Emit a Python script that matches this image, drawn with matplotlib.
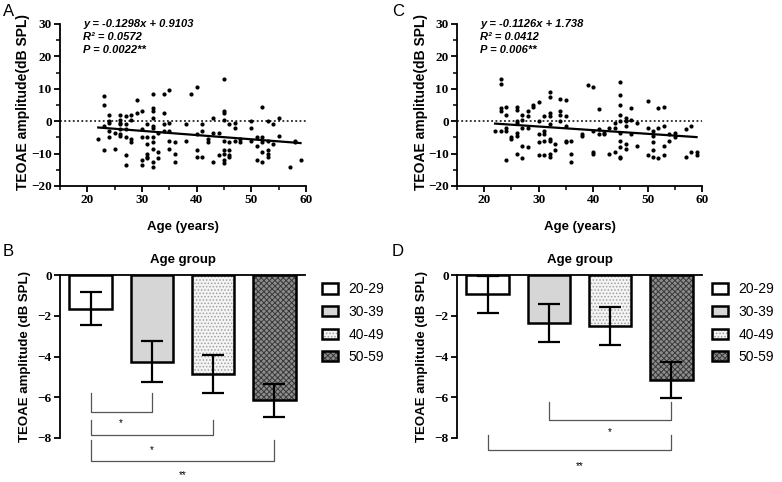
import matplotlib
matplotlib.use("Agg")
import matplotlib.pyplot as plt
from matplotlib.patches import Patch
from matplotlib.legend_handler import HandlerTuple
from matplotlib.ticker import MultipleLocator
import numpy as np

# ---------------- data ----------------
age_A = [22, 23, 23, 23, 23, 24, 24, 24, 24, 24, 25, 25,
         26, 26, 26, 26, 26, 26, 26, 27, 27, 27, 27, 27, 27,
         28, 28, 28, 28, 29, 29, 30, 30, 30, 30, 30,
         31, 31, 31, 31, 31, 31,
         32, 32, 32, 32, 32, 32, 32, 32, 32, 32, 32,
         33, 33, 33, 34, 34, 34, 34, 35, 35, 35, 35, 35,
         36, 36, 36, 38, 38, 39, 40, 40, 40, 40, 41, 41, 41,
         42, 42, 43, 43, 43, 44, 44,
         45, 45, 45, 45, 45, 45, 45, 45, 45,
         46, 46, 46, 46, 46, 47, 47, 47, 48, 48, 50, 50, 50,
         51, 51, 51, 52, 52, 52, 52, 52, 53, 53, 53, 53, 53,
         54, 54, 55, 55, 57, 58, 58, 59]
amp_A = [-5.5, 7.7, 5, -1.5, -9, 2, 0, -0.5, -3, -5, -3.5, -8.5,
         2, 0.5, -0.5, -1, -2.5, -4, -4.5, 1.5, -1, -2.5, -5, -10.5, -13.5,
         2, 0.5, -5.5, -6.5, 6.5, 2.5, 3, -2.5, -5, -12, -13.5,
         -1, -5, -7, -10, -11, -11.5,
         8.3, 4, 3, 1, -1.5, -2, -5, -6.5, -8.5, -12.5, -14,
         -3.5, -9.5, -11.5, 8.3, 2.5, -1, -3, 9.5, -0.5, -3, -6, -8.5,
         -6.5, -10, -12.5, -1, -6, 8.5, 10.5, -4, -9, -11, -1, -3, -11,
         -5.5, -6.5, 1, -3.5, -12.5, -3.5, -10.5,
         13, 3, 2.5, 0.5, -6, -9, -10, -12, -13,
         -1, -6.5, -9, -10.5, -11, -0.5, -2, -6, -5.5, -6.5, 0, -2, -6,
         -5, -7.5, -12, 4.5, -5, -6.5, -9.5, -12.5, 0, -6, -9, -10, -11,
         -1, -7, 1, -4.5, -14, -6, -6.5, -12]

age_C = [22, 23, 23, 23, 23, 23, 24, 24, 24, 24, 24, 25, 25,
         26, 26, 26, 26, 26, 26, 26, 27, 27, 27, 27, 27,
         28, 28, 28, 28, 29, 29, 30, 30, 30, 30, 30,
         31, 31, 31, 31, 31,
         32, 32, 32, 32, 32, 32, 32, 32, 32,
         33, 33, 34, 34, 34, 34, 35, 35, 35, 35, 35,
         36, 36, 36, 38, 38, 39, 40, 40, 40, 40, 41, 41, 41,
         42, 42, 43, 43, 44, 44, 44,
         45, 45, 45, 45, 45, 45, 45, 45, 45, 45,
         46, 46, 46, 46, 46, 47, 47, 47, 48, 48, 50, 50, 50,
         51, 51, 51, 51, 51, 52, 52, 52, 53, 53, 53, 53,
         54, 54, 55, 55, 57, 57, 58, 58, 59, 59]
amp_C = [-3, 13, 11.5, 4, 3, -3, 4.5, 2, -2, -3, -12, -5, -5.5,
         4.5, 3.5, 0, -0.5, -3.5, -4.5, -10, 2, 0.5, -2, -7.5, -11.5,
         3, 1.5, -2, -8, 5, 4.5, 5.8, 0, -4, -6.5, -10.5,
         1.5, -3, -4, -6, -10.5,
         9, 7.5, 2.5, 1.5, -1, -5.5, -6, -10, -11,
         -7, -9, 7, 3, 2, 0, 6.5, 1.5, -1.5, -6, -6.5,
         -6, -10, -12.5, -4, -4.5, 11.3, 10.5, -3, -9.5, -10, 3.8, -2.5, -4,
         -3.5, -4, -2, -10, -0.5, -2, -9.5,
         12, 8, 5, 2, 0, -3.5, -6, -8, -11, -11.5,
         1, 0, -1.5, -7, -8.5, 4, 0.5, -4, -0.5, -7.5, 6.3, -2, -10.5,
         -3, -4.5, -6.5, -9, -11, 4, -2, -11.5, 4.5, -1.5, -7.5, -10.5,
         -4, -6, -3.5, -5, -2.5, -11, -1.5, -9.5, -9.5, -10.5]

slope_A, intercept_A = -0.1298, 0.9103
slope_C, intercept_C = -0.1126, 1.738
stats_A = ["y = -0.1298x + 0.9103", "R\u00b2 = 0.0572", "P = 0.0022**"]
stats_C = ["y = -0.1126x + 1.738", "R\u00b2 = 0.0412", "P = 0.006**"]

groups = ["20-29", "30-39", "40-49", "50-59"]
mean_B = [-1.65, -4.25, -4.85, -6.15]
sem_B = [0.80, 1.00, 0.92, 0.82]
mean_D = [-0.95, -2.35, -2.50, -5.15]
sem_D = [0.92, 0.95, 0.93, 0.90]

# significance brackets: (i, j, y_top, y_bottom, y_star, label)
sig_B = [(0, 1, -5.8, -6.7, -7.25, "*"),
         (0, 2, -7.1, -7.85, -8.6, "*"),
         (0, 3, -8.1, -9.15, -9.8, "**")]
sig_D = [(1, 3, -6.25, -7.1, -7.7, "*"),
         (0, 3, -7.85, -8.6, -9.4, "**")]

# ---------------- style ----------------
plt.rcParams["hatch.linewidth"] = 0.7
face = ["white", "#d6d6d6", "#f4f4f4", "#8c8c8c"]
hatch = [None, None, ".....", "xxxxxx"]
hcol = ["none", "none", "#a0a0a0", "#383838"]

W, H = 782, 482
fig = plt.figure(figsize=(W / 100, H / 100), dpi=100)
serif = "Liberation Serif"
sans = "Liberation Sans"


def fx(px):
    return px / W


def fy(py):
    return 1 - py / H


def style_ticklabels(ax):
    for lab in ax.get_xticklabels() + ax.get_yticklabels():
        lab.set_fontfamily(serif)
        lab.set_fontweight("bold")
        lab.set_fontsize(9.5)


def scatter_panel(rect, ages, amps, slope, intercept, stats, letter, lx):
    ax = fig.add_axes(rect)
    ax.scatter(ages, amps, s=9, color="black", zorder=3, linewidths=0)
    xs = np.array([min(ages), max(ages)])
    ax.plot(xs, slope * xs + intercept, color="black", lw=1.6, zorder=4)
    ax.axhline(0, color="black", lw=1.1, ls=(0, (1.2, 1.6)), zorder=2)
    ax.set_xlim(15, 60)
    ax.set_ylim(-20, 30)
    ax.xaxis.set_major_locator(MultipleLocator(10))
    ax.xaxis.set_minor_locator(MultipleLocator(5))
    ax.yaxis.set_major_locator(MultipleLocator(10))
    ax.yaxis.set_minor_locator(MultipleLocator(5))
    ax.set_xticks([20, 30, 40, 50, 60])
    for s in ["top", "right"]:
        ax.spines[s].set_visible(False)
    for s in ["left", "bottom"]:
        ax.spines[s].set_linewidth(1.3)
    ax.tick_params(which="major", length=4, width=1.3, pad=2)
    ax.tick_params(which="minor", length=3, width=1.1)
    style_ticklabels(ax)
    ax.set_ylabel("TEOAE amplitude(dB SPL)", fontfamily=sans,
                  fontweight="bold", fontsize=10)
    ax.yaxis.set_label_coords(-0.12, 0.52)
    ax.set_xlabel("Age (years)", fontfamily=sans, fontweight="bold",
                  fontsize=9.5)
    ax.xaxis.set_label_coords(0.5, -0.215)
    for k, t in enumerate(stats):
        ax.text(0.094, 0.981 - k * 0.08, t, transform=ax.transAxes,
                fontfamily=sans, fontweight="bold", fontstyle="italic",
                fontsize=8, va="baseline", ha="left")
    fig.text(lx, fy(4), letter, fontfamily=sans, fontsize=12,
             va="top", ha="left")
    return ax


def bar_panel(rect, means, sems, sigs, letter, lx, legx):
    ax = fig.add_axes(rect)
    x = np.arange(len(groups))
    handles = []
    for i in range(len(groups)):
        ax.bar(x[i], means[i], width=0.69, color=face[i], hatch=hatch[i],
               edgecolor=hcol[i], linewidth=0, zorder=2)
        ax.bar(x[i], means[i], width=0.69, fill=False,
               edgecolor="black", linewidth=1.8, zorder=3)
        p1 = Patch(facecolor=face[i], hatch=hatch[i], edgecolor=hcol[i],
                   linewidth=0)
        p2 = Patch(fill=False, edgecolor="black", linewidth=1.8)
        handles.append((p1, p2))
    ax.errorbar(x, means, yerr=sems, fmt="none", ecolor="black",
                elinewidth=1.6, capsize=8, capthick=1.6, zorder=4)
    ax.set_xlim(-0.5, 3.5)
    ax.set_ylim(-8, 0)
    ax.set_yticks([0, -2, -4, -6, -8])
    ax.set_xticks([])
    ax.spines["right"].set_visible(False)
    ax.spines["bottom"].set_visible(False)
    ax.spines["top"].set_linewidth(1.3)
    ax.spines["left"].set_linewidth(1.3)
    ax.tick_params(axis="y", length=4, width=1.3, pad=2)
    style_ticklabels(ax)
    ax.set_ylabel("TEOAE amplitude (dB SPL)", fontfamily=sans,
                  fontweight="bold", fontsize=9.5)
    ax.yaxis.set_label_coords(-0.12, 0.5)
    ax.set_title("Age group", fontfamily=sans, fontweight="bold",
                 fontsize=9.5, pad=9)
    for (i, j, yt, yb, ys, lab) in sigs:
        ax.plot([x[i], x[i], x[j], x[j]], [yt, yb, yb, yt], color="#555555",
                lw=0.9, clip_on=False, zorder=1)
        ax.text((x[i] + x[j]) / 2, ys, lab, ha="center", va="center",
                fontsize=7, fontfamily=sans, clip_on=False)
    ax.legend(handles, groups, handler_map={tuple: HandlerTuple(ndivide=1, pad=0)},
              loc="upper left", bbox_to_anchor=(legx, 0.955), frameon=False,
              prop={"family": sans, "size": 10}, handlelength=1.15,
              handleheight=0.75, labelspacing=0.62, handletextpad=0.75,
              borderaxespad=0, borderpad=0)
    fig.text(lx, fy(244), letter, fontfamily=sans, fontsize=12,
             va="top", ha="left")
    return ax


scatter_panel([fx(60), fy(186), fx(246), 162 / H], age_A, amp_A,
              slope_A, intercept_A, stats_A, "A", fx(3))
scatter_panel([fx(457), fy(186), fx(245), 162 / H], age_C, amp_C,
              slope_C, intercept_C, stats_C, "C", fx(392))
bar_panel([fx(60), fy(438), fx(245), 163 / H], mean_B, sem_B, sig_B, "B", fx(3), 1.07)
bar_panel([fx(457), fy(438), fx(245), 163 / H], mean_D, sem_D, sig_D, "D", fx(392), 1.04)

fig.savefig("out.png", dpi=100, facecolor="white")
